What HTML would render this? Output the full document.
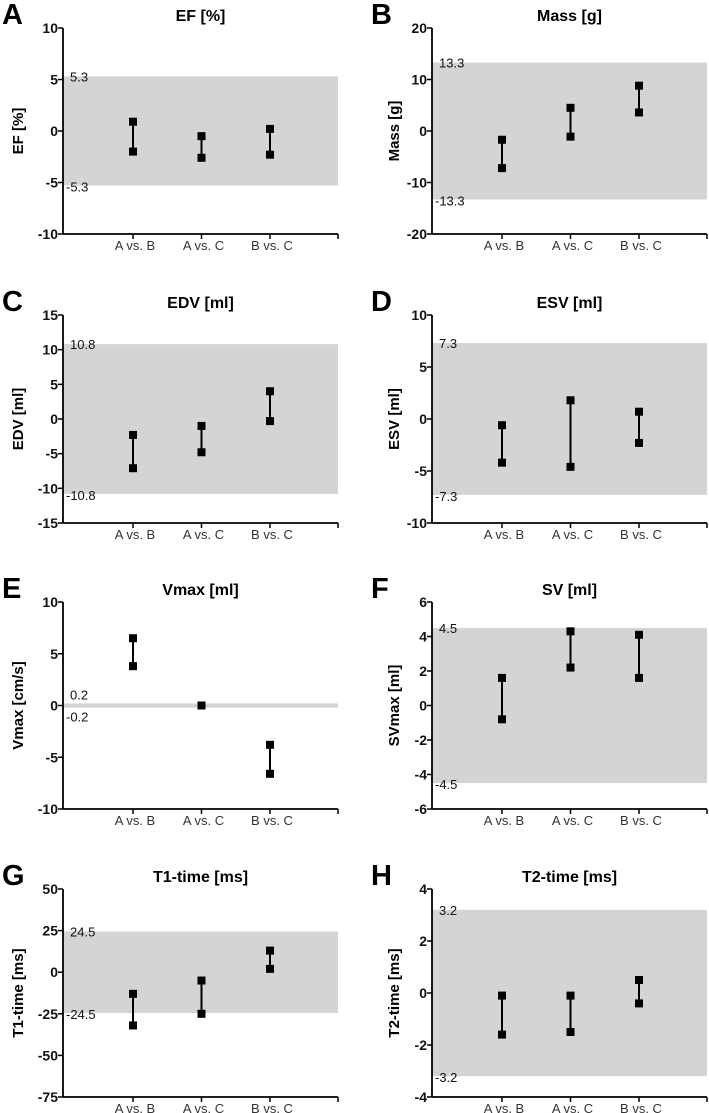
<!DOCTYPE html>
<html><head><meta charset="utf-8"><style>
body{margin:0;background:#fff;width:709px;height:1113px;overflow:hidden}
svg{display:block;font-family:"Liberation Sans",Arial,sans-serif}
</style></head><body>
<svg id="fig" width="709" height="1113" viewBox="0 0 709 1113"></svg>
<script>
const categories=["A vs. B","A vs. C","B vs. C"];
const titles=["EF [%]","Mass [g]","EDV [ml]","ESV [ml]","Vmax [ml]","SV [ml]","T1-time [ms]","T2-time [ms]"];
const yTitles=["EF [%]","Mass [g]","EDV [ml]","ESV [ml]","Vmax [cm/s]","SVmax [ml]","T1-time [ms]","T2-time [ms]"];
const letters=["A","B","C","D","E","F","G","H"];
const limits=[5.3,13.3,10.8,7.3,0.2,4.5,24.5,3.2];
const yMin=[-10,-20,-15,-10,-10,-6,-75,-4];
const yMax=[10,20,15,10,10,6,50,4];
const yStep=[5,10,5,5,5,2,25,2];
const upperVals=[[0.9,-0.5,0.2],[-1.7,4.5,8.8],[-2.3,-1.0,4.0],[-0.6,1.8,0.7],[6.5,0,-3.8],[1.6,4.3,4.1],[-13,-5,13],[-0.1,-0.1,0.5]];
const lowerVals=[[-2.0,-2.6,-2.3],[-7.2,-1.1,3.6],[-7.1,-4.8,-0.3],[-4.2,-4.6,-2.3],[3.8,0,-6.6],[-0.8,2.2,1.6],[-32,-25,2],[-1.6,-1.5,-0.4]];

const NS="http://www.w3.org/2000/svg";
const svg=document.getElementById('fig');
function mk(tag,attrs,parent,text){const e=document.createElementNS(NS,tag);for(const k in attrs)e.setAttribute(k,attrs[k]);if(text!==undefined)e.textContent=text;parent.appendChild(e);return e;}
const rowsTop=[28,315,602,889], rowsBot=[234,523,809,1097];
for(let i=0;i<8;i++){
  const col=i%2,row=Math.floor(i/2);
  const ax=col?432:63, ar=col?707:338;
  const top=rowsTop[row], bot=rowsBot[row];
  const catX=[0,1,2].map(j=>ax+70+j*68.5);
  const y=v=>bot-(v-yMin[i])/(yMax[i]-yMin[i])*(bot-top);
  const g=mk('g',{},svg);
  
  
  const lt=mk('text',{x:col?371:2,y:top-4,'font-size':29,'font-weight':'bold',fill:'#000'},g,letters[i]);
  
  const tt=mk('text',{x:(ax+ar)/2,y:top-7,'font-size':16,'font-weight':'bold','text-anchor':'middle',fill:'#000'},g,titles[i]);
  
  const band=mk('rect',{x:ax,y:y(limits[i]),width:ar-ax,height:y(-limits[i])-y(limits[i]),fill:'#d4d4d4'},g);
  
  const ul=mk('text',{x:ax+7,y:y(limits[i])+(i==4?-4:5),'font-size':13,fill:'#111'},g,limits[i].toFixed(1));
  
  const ll=mk('text',{x:ax+3,y:y(-limits[i])+(i==4?14:6),'font-size':13,fill:'#111'},g,(-limits[i]).toFixed(1));
  
  const yaxis=mk('line',{x1:ax,y1:top,x2:ax,y2:bot,stroke:'#000','stroke-width':1.8},g);
  
  const xaxis=mk('line',{x1:ax,y1:bot,x2:ar,y2:bot,stroke:'#000','stroke-width':1.8},g);
  
  mk('line',{x1:ar,y1:bot,x2:ar,y2:bot+5,stroke:'#000','stroke-width':1.5},g);
  for(let v=yMin[i];v<=yMax[i]+1e-9;v+=yStep[i]){
    mk('line',{x1:ax-5,y1:y(v),x2:ax,y2:y(v),stroke:'#000','stroke-width':1.5},g);
    const tl=mk('text',{x:ax-5,y:y(v)+5,'font-size':14,'font-weight':'bold','text-anchor':'end',fill:'#111'},g,String(v));
    
  }
  const yt=mk('text',{x:0,y:0,'font-size':15,'font-weight':'bold','text-anchor':'middle',fill:'#000',transform:`translate(${col?399:23},${(top+bot)/2}) rotate(-90)`},g,yTitles[i]);
  
  categories.forEach((c,j)=>{
    mk('line',{x1:catX[j],y1:bot,x2:catX[j],y2:bot+5,stroke:'#000','stroke-width':1.5},g);
    const cl=mk('text',{x:catX[j]+2,y:bot+16,'font-size':13,'text-anchor':'middle',fill:'#333'},g,c);
    
    const u=upperVals[i][j],l=lowerVals[i][j];
    const el=mk('line',{x1:catX[j],y1:y(u),x2:catX[j],y2:y(l),stroke:'#000','stroke-width':2},g);
    
    [u,l].forEach(v=>{
      const m=mk('rect',{x:catX[j]-4,y:y(v)-4,width:8,height:8,fill:'#000'},g);
      
    });
  });
}
</script>
</body></html>
